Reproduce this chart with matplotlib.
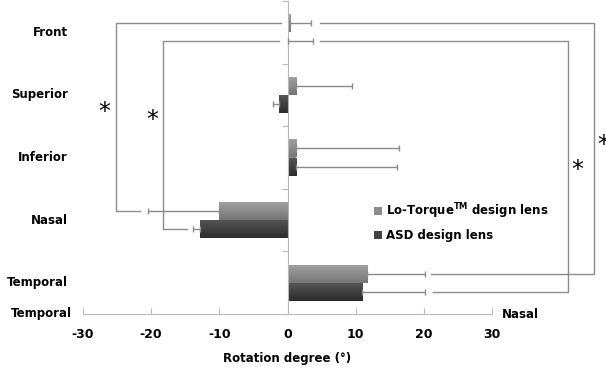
import numpy as np
import matplotlib
matplotlib.use('Agg')
import matplotlib.pyplot as plt
from matplotlib.colors import LinearSegmentedColormap

# categories from bottom to top
categories = ['Temporal', 'Nasal', 'Inferior', 'Superior', 'Front']
lo_mean = [11.7, -10.0, 1.3, 1.3, 0.4]
lo_err = [8.4, 10.5, 15.0, 8.1, 3.0]
asd_mean = [11.0, -12.9, 1.3, -1.3, 0.1]
asd_err = [9.1, 0.9, 14.7, 0.9, 3.6]
xticks = [-30, -20, -10, 0, 10, 20, 30]

plt.rcParams['font.family'] = ['DejaVu Sans']
plt.rcParams['font.weight'] = 'bold'

fig = plt.figure(figsize=(6.06, 3.74), dpi=100)
ax = fig.add_axes([83 / 606, 60 / 374, 409 / 606, 313 / 374])

y = np.arange(len(categories))
h = 0.29
axis_col = '#b8b8b8'
err_col = '#8a8a8a'

lo_cmap = LinearSegmentedColormap.from_list('lo', ['#767676', '#a2a2a2'])
asd_cmap = LinearSegmentedColormap.from_list('asd', ['#2c2c2c', '#575757'])


def draw_bars(ypos, means, errs, cmap, label):
    bars = ax.barh(ypos, means, height=h, color=cmap(0.5), edgecolor='none',
                   label=label, zorder=2)
    grad = np.linspace(0, 1, 64).reshape(-1, 1)
    for b in bars:
        x0, y0 = b.get_x(), b.get_y()
        w, hh = b.get_width(), b.get_height()
        im = ax.imshow(grad, cmap=cmap, aspect='auto', origin='lower',
                       extent=[min(x0, x0 + w), max(x0, x0 + w), y0, y0 + hh],
                       zorder=2.5)
        im.set_clip_path(b)
    lower = [e if m < 0 else 0 for m, e in zip(means, errs)]
    upper = [e if m >= 0 else 0 for m, e in zip(means, errs)]
    ax.errorbar(means, ypos, xerr=[lower, upper], fmt='none', ecolor=err_col,
                elinewidth=1, capsize=2, capthick=1, zorder=3)
    return bars


draw_bars(y + h / 2, lo_mean, lo_err, lo_cmap, 'Lo-Torque$^{\\mathregular{TM}}$ design lens')
draw_bars(y - h / 2, asd_mean, asd_err, asd_cmap, 'ASD design lens')

ax.set_xlim(-30, 30)
ax.set_ylim(-0.5, len(categories) - 0.5)

# axes styling
for s in ['top', 'right']:
    ax.spines[s].set_visible(False)
ax.spines['left'].set_position(('data', 0))
ax.spines['left'].set_color(axis_col)
ax.spines['bottom'].set_color(axis_col)
ax.set_yticks(np.arange(-0.5, len(categories), 1.0))
ax.set_yticklabels([])
ax.tick_params(axis='y', direction='out', length=4, color=axis_col)
ax.set_xticks(xticks)
ax.set_xticklabels([str(t) for t in xticks], fontsize=9, fontweight='bold')
ax.tick_params(axis='x', direction='in', length=4, color=axis_col, pad=10)
ax.set_xlabel('Rotation degree (°)', fontsize=8.5, fontweight='bold', labelpad=8)

tr = ax.get_yaxis_transform()
for yy, c in zip(y, categories):
    ax.text(-0.037, yy, c, transform=tr, ha='right', va='center',
            fontsize=8.5, fontweight='bold')
ax.text(-0.027, -0.5, 'Temporal', transform=tr, ha='right', va='center',
        fontsize=8.5, fontweight='bold', clip_on=False)
ax.text(1.025, -0.5, 'Nasal', transform=tr, ha='left', va='center',
        fontsize=8.5, fontweight='bold', clip_on=False)

# significance brackets
bk = dict(color='#8c8c8c', lw=1, clip_on=False, zorder=1)
front, nasal, temporal = y[4], y[1], y[0]
ax.plot([-1.0, -25.2, -25.2, -21.6], [front + h / 2, front + h / 2, nasal + h / 2, nasal + h / 2], **bk)
ax.plot([-1.3, -18.2, -18.2, -14.8], [front - h / 2, front - h / 2, nasal - h / 2, nasal - h / 2], **bk)
ax.plot([4.8, 45.0, 45.0, 21.0], [front + h / 2, front + h / 2, temporal + h / 2, temporal + h / 2], **bk)
ax.plot([4.8, 41.2, 41.2, 21.3], [front - h / 2, front - h / 2, temporal - h / 2, temporal - h / 2], **bk)
for sx, sy in [(-26.9, 2.72), (-19.8, 2.60), (42.5, 1.80), (46.3, 2.20)]:
    ax.text(sx, sy, '*', ha='center', va='center', fontsize=17,
            fontweight='normal', clip_on=False)

leg = ax.legend(loc='center left', bbox_to_anchor=(0.70, 0.295), frameon=False,
                fontsize=8.5, handlelength=0.7, handleheight=0.7,
                handletextpad=0.3, labelspacing=0.7, borderaxespad=0)

fig.savefig('out.png', dpi=100)
plt.close(fig)
